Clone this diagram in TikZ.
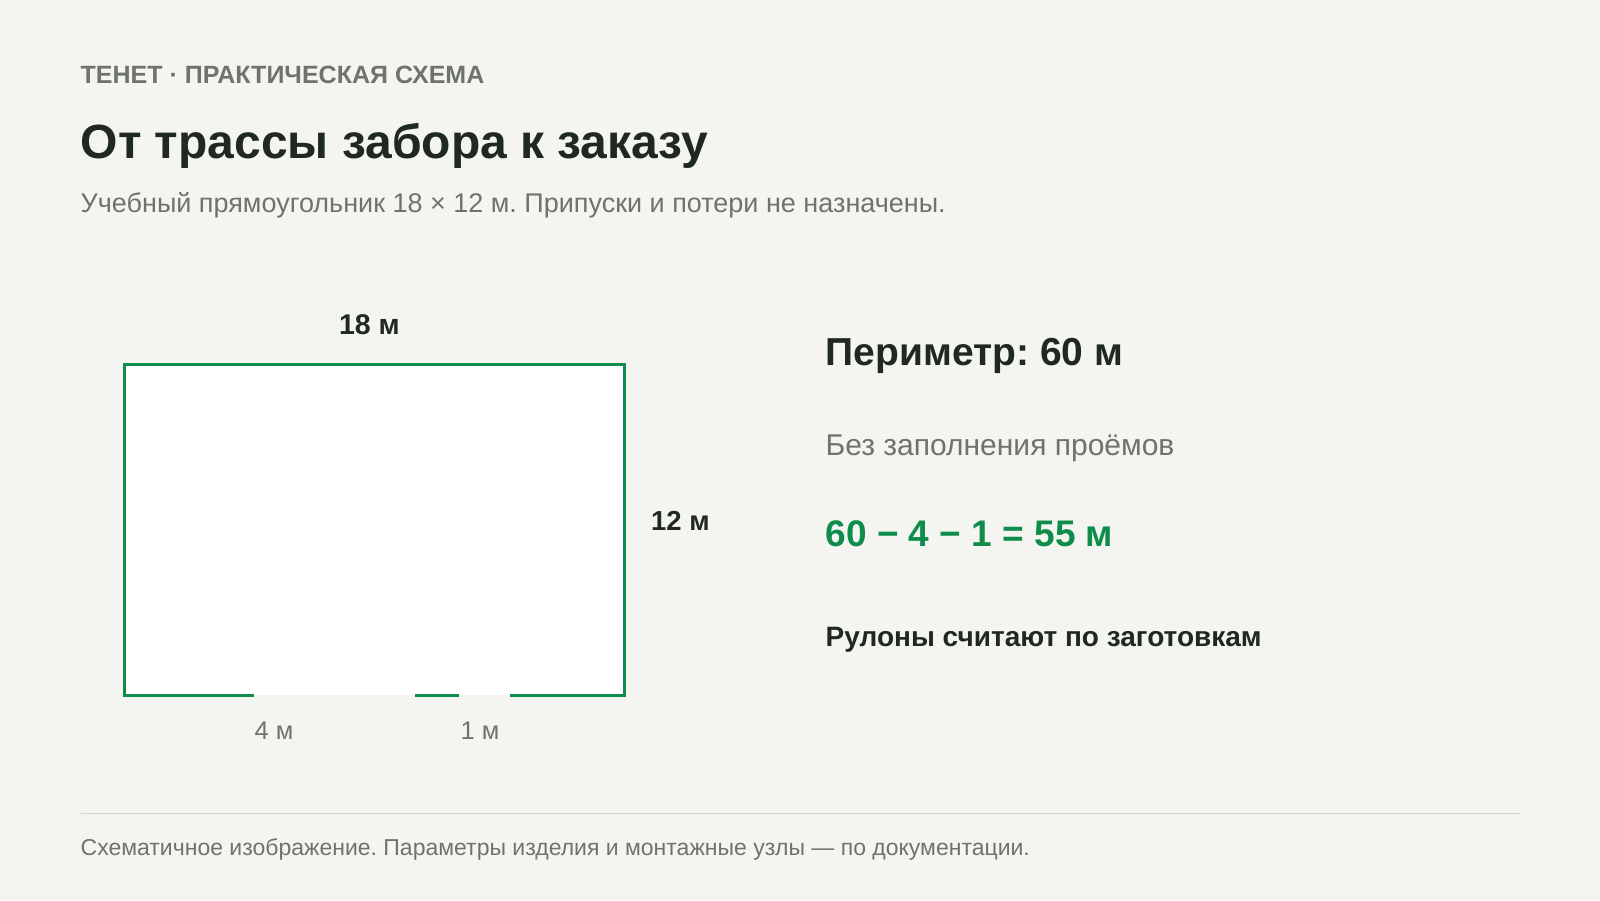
\documentclass[tikz,border=0pt]{standalone}
\usepackage{fontspec}
\setmainfont{Liberation Sans}
\usepackage{xcolor}
\usepackage{tikz}

\definecolor{paper}{HTML}{F4F5F0}
\definecolor{ink}{HTML}{1F2822}
\definecolor{muted}{HTML}{6E736D}
\definecolor{fence}{HTML}{0E8C4A}
\definecolor{rulegray}{HTML}{D3D6CF}

\newcommand{\fsz}[1]{\fontsize{#1}{#1}\selectfont}
\frenchspacing

\begin{document}
\begin{tikzpicture}
    [x=1pt,y=-1pt,
    txt/.style={inner sep=0pt,anchor=base west},
    dim/.style={inner sep=0pt,anchor=base,font=\fsz{28.5}\bfseries,text=ink},
    gapdim/.style={inner sep=0pt,anchor=base,font=\fsz{25.5},text=muted},
    fenceline/.style={draw=fence,line width=3pt}]

    \fill [paper] (0,0) rectangle (1600,900);
    \useasboundingbox (0,0) rectangle (1600,900);

    % heading
    \node (kicker) [txt,font=\fsz{25}\bfseries,text=muted] at (80.5,83) {ТЕНЕТ · ПРАКТИЧЕСКАЯ СХЕМА};
    \node (title) [txt,font=\fsz{48}\bfseries,text=ink] at (80.5,158) {От трассы забора к заказу};
    \node (subtitle) [txt,font=\fsz{27},text=muted] at (80.5,212) {Учебный прямоугольник 18 × 12 м. Припуски и потери не назначены.};

    % plot outline with openings
    \fill [white] (124.5,364) rectangle (624.5,695);
    \draw [fenceline] (254,695) -- (124.5,695) -- (124.5,364) -- (624.5,364) -- (624.5,695) -- (510,695);
    \draw [fenceline] (415,695) -- (459,695);

    \node (top) [dim] at (369.5,334) {18 м};
    \node (side) [dim,anchor=base west,font=\fsz{27.5}\bfseries] at (651,530) {12 м};
    \node (gate) [gapdim] at (274,739) {4 м};
    \node (door) [gapdim] at (480,739) {1 м};

    % totals
    \node (perim) [txt,font=\fsz{39}\bfseries,text=ink] at (825.5,365) {Периметр: 60 м};
    \node (note) [txt,font=\fsz{30},text=muted] at (825.5,455) {Без заполнения проёмов};
    \node (calc) [txt,font=\fsz{37}\bfseries,text=fence] at (825.5,546) {60 − 4 − 1 = 55 м};
    \node (rolls) [txt,font=\fsz{28}\bfseries,text=ink] at (825.5,646) {Рулоны считают по заготовкам};

    % footer
    \draw [rulegray,line width=1.5pt] (80.5,813.5) -- (1519.5,813.5);
    \node (foot) [txt,font=\fsz{23},text=muted] at (80.5,855) {Схематичное изображение. Параметры изделия и монтажные узлы — по документации.};
\end{tikzpicture}
\end{document}
